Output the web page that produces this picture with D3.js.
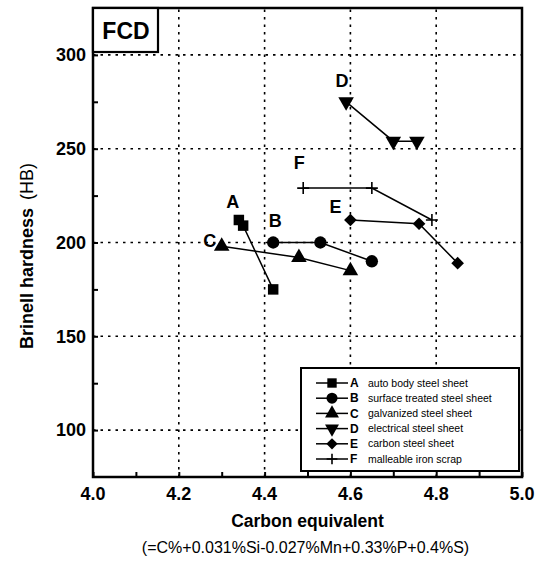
<!DOCTYPE html>
<html>
<head>
<meta charset="utf-8">
<script src="https://cdn.jsdelivr.net/npm/d3@7"></script>
<style>
  body { margin: 0; background: #fff; }
  svg { display: block; font-family: "Liberation Sans", Arial, sans-serif; }
</style>
</head>
<body>
<svg id="chart" width="544" height="562"></svg>
<script>
// values
let seriesNames = ["A", "B", "C", "D", "E", "F"]
let seriesText = ["auto body steel sheet", "surface treated steel sheet", "galvanized steel sheet",
                  "electrical steel sheet", "carbon steel sheet", "malleable iron scrap"]
let xA = [4.34, 4.35, 4.42], yA = [212, 209, 175]
let xB = [4.42, 4.53, 4.65], yB = [200, 200, 190]
let xC = [4.30, 4.48, 4.60], yC = [198, 192, 185]
let xD = [4.59, 4.70, 4.755], yD = [275, 254, 254]
let xE = [4.60, 4.76, 4.85], yE = [212, 210, 189]
let xF = [4.49, 4.65, 4.79], yF = [229, 229, 212]
let xTicks = [4.0, 4.2, 4.4, 4.6, 4.8, 5.0]
let yTicks = [100, 150, 200, 250, 300]

let svg = d3.select("#chart")
let margin = {left: 93, right: 22, top: 8, bottom: 85}
let W = 544, H = 562

let x = d3.scaleLinear().domain([4.0, 5.0]).range([margin.left, W - margin.right])
let y = d3.scaleLinear().domain([75, 325]).range([H - margin.bottom, margin.top])

let xs = [xA, xB, xC, xD, xE, xF]
let ys = [yA, yB, yC, yD, yE, yF]
let series = seriesNames.map((n, i) => ({name: n, pts: xs[i].map((v, j) => ({x: v, y: ys[i][j]}))}))

// dotted grid
let grid = svg.append("g")
grid.selectAll("line.gx").data(xTicks.slice(1, -1)).join("line")
    .attr("x1", d => x(d)).attr("x2", d => x(d))
    .attr("y1", y(75)).attr("y2", y(325))
grid.selectAll("line.gy").data(yTicks).join("line")
    .attr("class", "gy")
    .attr("x1", x(4.0)).attr("x2", x(5.0))
    .attr("y1", d => y(d)).attr("y2", d => y(d))
grid.selectAll("line")
    .attr("stroke", "#000").attr("stroke-width", 1.6)
    .attr("stroke-dasharray", "2.5,5")

// axes: ticks pointing inward, minor ticks in between
svg.append("g").attr("transform", "translate(0," + y(75) + ")")
    .call(d3.axisTop(x).tickValues(d3.range(4.0, 5.001, 0.1)).tickSize(5).tickFormat(""))
svg.append("g").attr("transform", "translate(" + x(4.0) + ",0)")
    .call(d3.axisRight(y).tickValues(d3.range(100, 301, 25)).tickSize(5).tickFormat(""))
svg.selectAll(".domain").remove()
svg.selectAll(".tick line").attr("stroke", "#000").attr("stroke-width", 2)

svg.append("g").selectAll("text").data(xTicks).join("text")
    .attr("x", d => x(d)).attr("y", y(75) + 23)
    .attr("text-anchor", "middle")
    .attr("font-size", 18).attr("font-weight", "bold")
    .text(d => d.toFixed(1))
svg.append("g").selectAll("text").data(yTicks).join("text")
    .attr("x", x(4.0) - 7).attr("y", d => y(d))
    .attr("dy", "0.35em")
    .attr("text-anchor", "end")
    .attr("font-size", 18).attr("font-weight", "bold")
    .text(d => d)

// frame
svg.append("rect")
    .attr("x", x(4.0)).attr("y", y(325))
    .attr("width", x(5.0) - x(4.0)).attr("height", y(75) - y(325))
    .attr("fill", "none").attr("stroke", "#000").attr("stroke-width", 2.5)

// FCD box
svg.append("rect")
    .attr("x", x(4.0)).attr("y", y(325))
    .attr("width", 65).attr("height", 44)
    .attr("fill", "#fff").attr("stroke", "#000").attr("stroke-width", 2.2)
svg.append("text")
    .attr("x", x(4.0) + 33).attr("y", y(325) + 31)
    .attr("text-anchor", "middle")
    .attr("font-size", 23).attr("font-weight", "bold")
    .text("FCD")

// markers
function drawMarker(g, name, cx, cy, scale = 1){
    let m
    if (name === "A") m = g.append("path").attr("d", d3.symbol(d3.symbolSquare, 110 * scale)())
    else if (name === "B") m = g.append("path").attr("d", d3.symbol(d3.symbolCircle, 120 * scale)())
    else if (name === "C") m = g.append("path").attr("d", d3.symbol(d3.symbolTriangle, 105 * scale)())
    else if (name === "D") m = g.append("path").attr("d", d3.symbol(d3.symbolTriangle, 105 * scale)())
    else if (name === "E") m = g.append("path").attr("d", d3.symbol(d3.symbolSquare, 80 * scale)())
    else m = g.append("path").attr("d", d3.symbol(d3.symbolCross, 0)())
    let rot = name === "D" ? 180 : (name === "E" ? 45 : 0)
    m.attr("transform", "translate(" + cx + "," + cy + ") rotate(" + rot + ")").attr("fill", "#000")
    if (name === "F"){
        let s = 6 * Math.sqrt(scale)
        g.append("path")
            .attr("d", "M" + (cx - s) + "," + cy + "H" + (cx + s) + "M" + cx + "," + (cy - s) + "V" + (cy + s))
            .attr("stroke", "#000").attr("stroke-width", 1.6).attr("fill", "none")
    }
}

let line = d3.line().x(p => x(p.x)).y(p => y(p.y))
let plot = svg.append("g")
series.forEach(s => {
    plot.append("path").attr("d", line(s.pts))
        .attr("fill", "none").attr("stroke", "#000").attr("stroke-width", 1.5)
    let g = plot.append("g")
    s.pts.forEach(p => drawMarker(g, s.name, x(p.x), y(p.y)))
})

// series letters next to the first point
let labelShift = {A: [-6, -18], B: [2, -22], C: [-12, -6], D: [-4, -21], E: [-15, -13], F: [-4, -25]}
series.forEach(s => {
    svg.append("text")
        .attr("x", x(s.pts[0].x) + labelShift[s.name][0])
        .attr("y", y(s.pts[0].y) + labelShift[s.name][1])
        .attr("dy", "0.35em")
        .attr("text-anchor", "middle")
        .attr("font-size", 18).attr("font-weight", "bold")
        .text(s.name)
})

// legend
let leg = svg.append("g")
leg.append("rect")
    .attr("x", 301).attr("y", 368).attr("width", 218).attr("height", 103)
    .attr("fill", "#fff").attr("stroke", "#000").attr("stroke-width", 2)
seriesNames.forEach((n, i) => {
    let ly = 383 + i * 15.2
    leg.append("line").attr("x1", 316).attr("x2", 348).attr("y1", ly).attr("y2", ly)
        .attr("stroke", "#000").attr("stroke-width", 1.5)
    drawMarker(leg, n, 332, ly, 0.8)
    leg.append("text").attr("x", 350).attr("y", ly).attr("dy", "0.35em")
        .attr("font-size", 12).attr("font-weight", "bold").text(n)
    leg.append("text").attr("x", 368).attr("y", ly).attr("dy", "0.35em")
        .attr("font-size", 10.5).text(seriesText[i])
})

// axis titles
svg.append("text")
    .attr("x", (x(4.0) + x(5.0)) / 2).attr("y", 527)
    .attr("text-anchor", "middle")
    .attr("font-size", 17.5).attr("font-weight", "bold")
    .text("Carbon equivalent")
svg.append("text")
    .attr("x", (x(4.0) + x(5.0)) / 2 - 2).attr("y", 553)
    .attr("text-anchor", "middle")
    .attr("font-size", 16)
    .text("(=C%+0.031%Si-0.027%Mn+0.33%P+0.4%S)")
let yt = svg.append("text")
    .attr("transform", "translate(33,256) rotate(-90)")
    .attr("text-anchor", "middle")
    .attr("font-size", 18)
yt.append("tspan").attr("font-weight", "bold").text("Brinell hardness")
yt.append("tspan").attr("dx", 8).text("(HB)")
</script>
</body>
</html>
